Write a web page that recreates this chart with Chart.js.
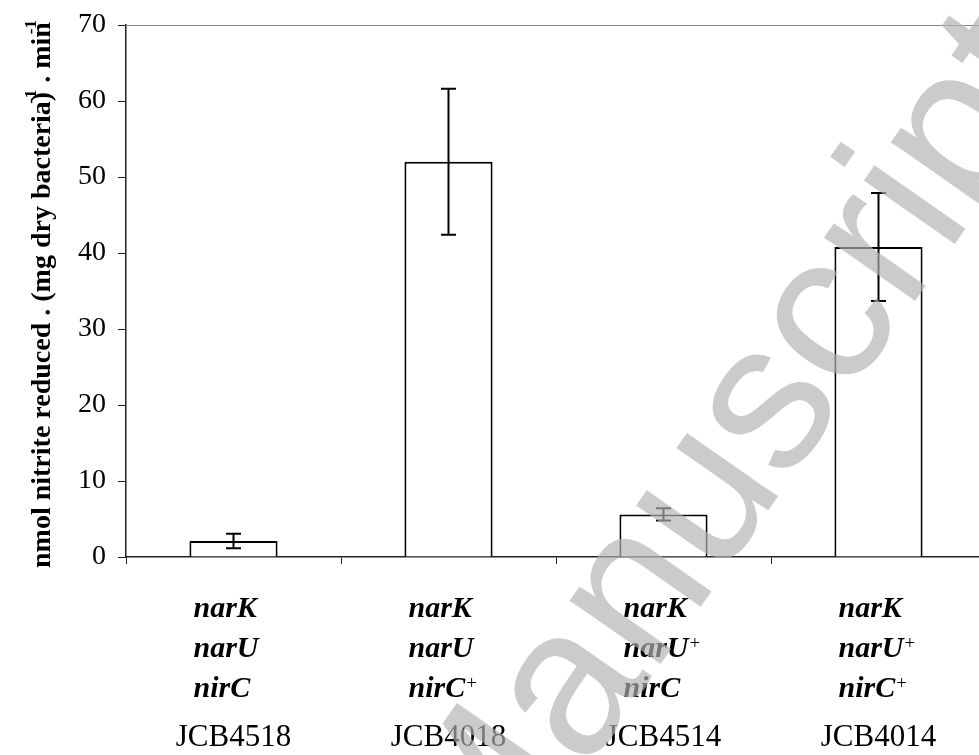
<!DOCTYPE html>
<html>
<head>
<meta charset="utf-8">
<script src="https://cdn.jsdelivr.net/npm/chart.js@4/dist/chart.umd.min.js"></script>
<style>
  html, body { margin: 0; padding: 0; background: #fff; overflow: hidden; }
  #wrap { width: 986px; height: 755px; }
</style>
</head>
<body>
<div id="wrap"><canvas id="myChart" width="986" height="755"></canvas></div>
<script>
// data
const strains = ['JCB4518', 'JCB4018', 'JCB4514', 'JCB4014'];
const narKLabels = ['narK', 'narK', 'narK', 'narK'];
const narULabels = [['narU', ''], ['narU', ''], ['narU', '+'], ['narU', '+']];
const nirCLabels = [['nirC', ''], ['nirC', '+'], ['nirC', ''], ['nirC', '+']];
const rates = [2.1, 52.0, 5.6, 40.8];
const rateErrors = [0.95, 9.6, 0.8, 7.1];
const yTicks = [0, 10, 20, 30, 40, 50, 60, 70];
const yTitleParts = [
  ['nmol nitrite reduced . (mg dry bacteria)', '-1'],
  [' . min', '-1'],
];
const watermarkLead = 'Accepted ';
const watermark = 'Manuscript';

const serif = '"Liberation Serif", "Times New Roman", serif';

const errorBars = {
  id: 'errorBars',
  afterDatasetsDraw(chart) {
    const ctx = chart.ctx;
    const y = chart.scales.y;
    const meta = chart.getDatasetMeta(0);
    ctx.save();
    ctx.strokeStyle = '#000';
    ctx.lineWidth = 2;
    meta.data.forEach((bar, i) => {
      const hi = y.getPixelForValue(rates[i] + rateErrors[i]);
      const lo = y.getPixelForValue(rates[i] - rateErrors[i]);
      ctx.beginPath();
      ctx.moveTo(bar.x, hi); ctx.lineTo(bar.x, lo);
      ctx.moveTo(bar.x - 7.5, hi); ctx.lineTo(bar.x + 7.5, hi);
      ctx.moveTo(bar.x - 7.5, lo); ctx.lineTo(bar.x + 7.5, lo);
      ctx.stroke();
    });
    ctx.restore();
  }
};

const labelsAndTitle = {
  id: 'labelsAndTitle',
  afterDraw(chart) {
    const ctx = chart.ctx;
    const x = chart.scales.x;
    const area = chart.chartArea;
    ctx.save();

    // top border of the plot
    ctx.strokeStyle = '#888';
    ctx.lineWidth = 1;
    ctx.beginPath();
    ctx.moveTo(area.left, area.top + 0.5);
    ctx.lineTo(area.right, area.top + 0.5);
    ctx.stroke();

    // genotype + strain labels under each bar
    ctx.fillStyle = '#000';
    ctx.textBaseline = 'alphabetic';
    strains.forEach((name, i) => {
      const cx = x.getPixelForValue(i);
      const left = cx - 40;
      const rows = [[narKLabels[i], ''], narULabels[i], nirCLabels[i]];
      rows.forEach((row, r) => {
        const base = 617 + r * 40;
        ctx.font = 'italic bold 30px ' + serif;
        ctx.textAlign = 'left';
        ctx.fillText(row[0], left, base);
        if (row[1]) {
          const w = ctx.measureText(row[0]).width;
          ctx.font = '19px ' + serif;
          ctx.fillText(row[1], left + w + 1, base - 8);
        }
      });
      ctx.font = '31px ' + serif;
      ctx.textAlign = 'center';
      ctx.fillText(name, cx, 746);
    });

    // rotated y axis title
    ctx.translate(50, 568);
    ctx.rotate(-Math.PI / 2);
    let pos = 0;
    yTitleParts.forEach(([txt, sup]) => {
      ctx.font = 'bold 28px ' + serif;
      ctx.textAlign = 'left';
      ctx.fillText(txt, pos, 0);
      pos += ctx.measureText(txt).width;
      ctx.font = 'bold 17px ' + serif;
      ctx.fillText(sup, pos - 12, -14);
      pos += 2;
    });
    ctx.restore();

    // light grey watermark laid over everything
    ctx.save();
    ctx.translate(485, 915);
    ctx.rotate(-55 * Math.PI / 180);
    ctx.font = '210px "Liberation Sans", Arial, sans-serif';
    ctx.fillStyle = 'rgba(178,178,178,0.67)';
    ctx.textAlign = 'left';
    const lead = ctx.measureText(watermarkLead).width;
    ctx.fillText(watermarkLead + watermark, -lead, 0);
    ctx.restore();
  }
};

new Chart(document.getElementById('myChart'), {
  type: 'bar',
  data: {
    labels: strains,
    datasets: [{
      data: rates,
      backgroundColor: '#fff',
      borderColor: '#000',
      borderWidth: 2,
      barPercentage: 0.41,
      categoryPercentage: 1,
    }],
  },
  options: {
    responsive: false,
    animation: false,
    devicePixelRatio: 1,
    layout: { padding: { top: 25, left: 0, right: 0, bottom: 0 } },
    plugins: {
      legend: { display: false },
      tooltip: { enabled: false },
    },
    scales: {
      x: {
        offset: true,
        afterFit: (scale) => { scale.height = 198; },
        border: { color: '#222', width: 1.5 },
        grid: { drawOnChartArea: false, tickLength: 7, color: '#222' },
        ticks: { display: false },
      },
      y: {
        min: 0,
        max: 70,
        afterFit: (scale) => {
          scale.width = 126;
          scale.paddingTop = 0;
          scale.paddingBottom = 0;
        },
        afterBuildTicks: (scale) => { scale.ticks = yTicks.map(v => ({ value: v })); },
        border: { color: '#222', width: 1.5 },
        grid: { drawOnChartArea: false, tickLength: 8, color: '#222' },
        ticks: {
          color: '#000',
          padding: 12,
          font: { family: serif, size: 28 },
        },
      },
    },
  },
  plugins: [errorBars, labelsAndTitle],
});
</script>
</body>
</html>
